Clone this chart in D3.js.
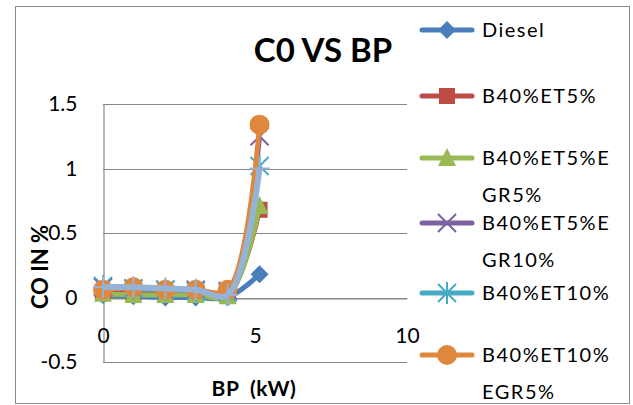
<!DOCTYPE html>
<html><head><meta charset="utf-8">
<script src="https://cdn.jsdelivr.net/npm/d3@7"></script>
<style>body{margin:0;background:#fff}svg{display:block}text{font-family:Lato,"Open Sans",sans-serif}</style>
</head><body><svg id="c" width="633" height="405"></svg>
<script>
const title = "C0 VS BP";
const xTitle = "BP  (kW)";
const yTitle = "CO IN %";
const bp = [0, 1, 2.05, 3.05, 4.1, 5.15];
const seriesNames = ["Diesel", "B40%ET5%", "B40%ET5%EGR5%", "B40%ET5%EGR10%", "B40%ET10%", "B40%ET10%EGR5%", ""];
const legendLines = [["Diesel"], ["B40%ET5%"], ["B40%ET5%E", "GR5%"], ["B40%ET5%E", "GR10%"], ["B40%ET10%"], ["B40%ET10%", "EGR5%"]];
const diesel = [0.02, 0.01, 0.0, 0.0, 0.0, 0.18];
const b40et5 = [0.04, 0.03, 0.03, 0.03, 0.02, 0.68];
const b40et5egr5 = [0.03, 0.02, 0.02, 0.02, 0.01, 0.71];
const b40et5egr10 = [0.08, 0.07, 0.06, 0.06, 0.05, 1.25];
const b40et10 = [0.09, 0.07, 0.06, 0.05, 0.04, 1.02];
const b40et10egr5 = [0.06, 0.08, 0.06, 0.06, 0.06, 1.34];
const extra = [0.08, 0.08, 0.07, 0.06, 0.02, 1.0];
const allSeries = [diesel, b40et5, b40et5egr5, b40et5egr10, b40et10, b40et10egr5, extra];
const colors = ["#4A7EBB", "#BE4B48", "#98B954", "#7D60A0", "#46AAC5", "#E0873E", "#95B3D7"];
const markers = ["diamond", "square", "triangle", "x", "star", "circle", "plus"];
const yTicks = [-0.5, 0, 0.5, 1, 1.5];
const yTickLabels = ["-0.5", "0", "0.5", "1", "1.5"];
const xTicks = [0, 5, 10];
const xTickLabels = ["0", "5", "10"];

const svg = d3.select("#c");
svg.append("rect").attr("x", 15.5).attr("y", 6.5).attr("width", 614).attr("height", 397)
  .attr("fill", "#fff").attr("stroke", "#8a8a8a").attr("stroke-width", 1);

const x = d3.scaleLinear().domain([0, 10]).range([103, 407]);
const y = d3.scaleLinear().domain([-0.5, 1.5]).range([362, 104]);

// gridlines
svg.append("g").selectAll("line").data(yTicks).join("line")
  .attr("x1", x(0)).attr("x2", x(10)).attr("y1", d => Math.round(y(d)) + 0.5).attr("y2", d => Math.round(y(d)) + 0.5)
  .attr("stroke", "#878787").attr("stroke-width", 1.2);

// y axis
const yAxis = d3.axisLeft(y).tickValues(yTicks).tickSize(0).tickPadding(26)
  .tickFormat((d, i) => yTickLabels[i]);
const gy = svg.append("g").attr("transform", `translate(${x(0) + 0.5},0)`).call(yAxis);
gy.select(".domain").attr("stroke", "#878787").attr("stroke-width", 1.2);
gy.selectAll("text").attr("font-size", 21).attr("fill", "#000").attr("font-family", "Lato");

// x axis at y=0
const xAxis = d3.axisBottom(x).tickValues(xTicks).tickSize(0).tickPadding(30)
  .tickFormat((d, i) => xTickLabels[i]);
const gx = svg.append("g").attr("transform", `translate(0,${Math.round(y(0)) + 0.5})`).call(xAxis);
gx.select(".domain").attr("stroke", "#878787").attr("stroke-width", 1.2);
gx.selectAll("text").attr("font-size", 21).attr("fill", "#000").attr("font-family", "Lato");

// titles
svg.append("text").attr("x", 323).attr("y", 62).attr("text-anchor", "middle")
  .attr("font-size", 33).attr("font-weight", "bold").text(title);
svg.append("text").attr("x", 254).attr("y", 396).attr("text-anchor", "middle")
  .attr("font-size", 21).attr("font-weight", "bold").attr("letter-spacing", 0.5)
  .attr("xml:space", "preserve").style("white-space", "pre").text(xTitle);
svg.append("text").attr("transform", "translate(48,267) rotate(-90)").attr("text-anchor", "middle")
  .attr("font-size", 22).attr("font-weight", "bold").text(yTitle);

const line = d3.line().x((d, i) => x(bp[i])).y(d => y(d)).curve(d3.curveCatmullRom.alpha(0.5));

function drawMarker(g, type, cx, cy, color) {
  const s = 9;
  if (type === "diamond") {
    g.append("path").attr("d", `M${cx},${cy - s}L${cx + s},${cy}L${cx},${cy + s}L${cx - s},${cy}Z`).attr("fill", color);
  } else if (type === "square") {
    g.append("rect").attr("x", cx - 8).attr("y", cy - 8).attr("width", 16).attr("height", 16).attr("fill", color);
  } else if (type === "triangle") {
    g.append("path").attr("d", `M${cx},${cy - 10}L${cx + 9},${cy + 8}L${cx - 9},${cy + 8}Z`).attr("fill", color);
  } else if (type === "circle") {
    g.append("circle").attr("cx", cx).attr("cy", cy).attr("r", 10).attr("fill", color);
  } else if (type === "x") {
    g.append("path").attr("d", `M${cx - 9},${cy - 9}L${cx + 9},${cy + 9}M${cx + 9},${cy - 9}L${cx - 9},${cy + 9}`)
      .attr("stroke", color).attr("stroke-width", 2).attr("fill", "none");
  } else if (type === "star") {
    g.append("path").attr("d", `M${cx - 9},${cy - 9}L${cx + 9},${cy + 9}M${cx + 9},${cy - 9}L${cx - 9},${cy + 9}M${cx},${cy - 11}L${cx},${cy + 11}`)
      .attr("stroke", color).attr("stroke-width", 2).attr("fill", "none");
  } else if (type === "plus") {
    g.append("path").attr("d", `M${cx - 10},${cy}L${cx + 10},${cy}M${cx},${cy - 11}L${cx},${cy + 11}`)
      .attr("stroke", color).attr("stroke-width", 2).attr("fill", "none");
  }
}

allSeries.forEach((vals, si) => {
  const g = svg.append("g");
  g.append("path").datum(vals).attr("d", line).attr("fill", "none")
    .attr("stroke", colors[si]).attr("stroke-width", si === 6 ? 6 : 5).attr("stroke-linejoin", "round");
  vals.forEach((v, i) => drawMarker(g, markers[si], x(bp[i]), y(v), colors[si]));
});

// legend
const legendY = [30, 96, 158, 223, 293, 355];
legendLines.forEach((lines, i) => {
  const g = svg.append("g");
  const ly = legendY[i];
  g.append("line").attr("x1", 422).attr("x2", 472).attr("y1", ly).attr("y2", ly)
    .attr("stroke", colors[i]).attr("stroke-width", 5).attr("stroke-linecap", "round");
  drawMarker(g, markers[i], 447, ly, colors[i]);
  lines.forEach((t, j) => {
    g.append("text").attr("x", 482).attr("y", ly + 7 + j * 37).attr("font-size", 20)
      .attr("letter-spacing", 1.5).attr("fill", "#000").text(t);
  });
});
</script></body></html>
